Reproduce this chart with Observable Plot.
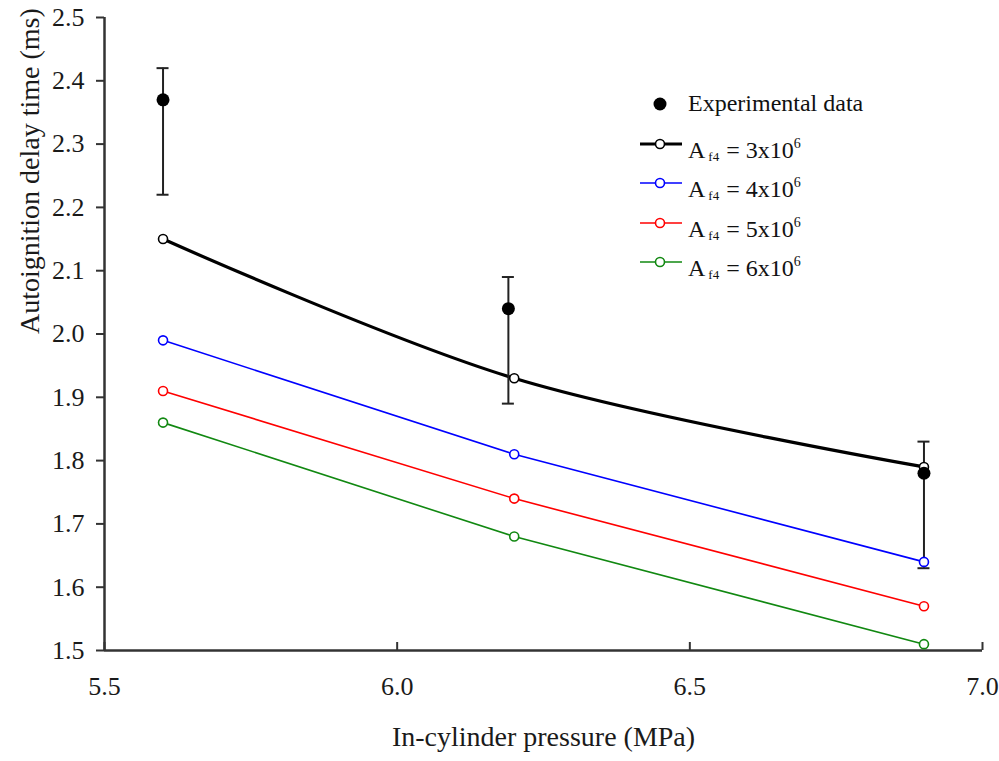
<!DOCTYPE html>
<html>
<head>
<meta charset="utf-8">
<script src="https://cdn.jsdelivr.net/npm/d3@7"></script>
<script src="https://cdn.jsdelivr.net/npm/@observablehq/plot@0.6"></script>
<style>
  html, body { margin: 0; padding: 0; background: #fff; }
  #wrap { position: relative; width: 999px; height: 761px; }
  #legend { position: absolute; left: 636px; top: 84px; font-family: "Liberation Serif", serif; font-size: 24px; color: #111; }
  .row { position: relative; height: 39.5px; line-height: 39.5px; white-space: nowrap; }
  .row svg { position: absolute; left: 0; top: 0; }
  .row span.t { position: absolute; left: 52px; top: 0; }
  sub { font-size: 13px; vertical-align: -3px; margin: 0 7px 0 3px; }
  sup { font-size: 14px; vertical-align: 10px; }
</style>
</head>
<body>
<div id="wrap"></div>
<script>
// ---- data ----
const pressure = [5.6, 6.2, 6.9];                 // model pressures (MPa)
const seriesNames = ["3", "4", "5", "6"];          // Af4 multipliers (x10^6)
const seriesColors = ["#000000", "#0000ff", "#ff0000", "#118811"];
const af4_3 = [2.15, 1.93, 1.79];
const af4_4 = [1.99, 1.81, 1.64];
const af4_5 = [1.91, 1.74, 1.57];
const af4_6 = [1.86, 1.68, 1.51];
const expPressure = [5.6, 6.19, 6.9];
const expDelay = [2.37, 2.04, 1.78];
const expHigh = [2.42, 2.09, 1.83];
const expLow = [2.22, 1.89, 1.63];
const xTicks = [5.5, 6.0, 6.5, 7.0];
const yTicks = [1.5, 1.6, 1.7, 1.8, 1.9, 2.0, 2.1, 2.2, 2.3, 2.4, 2.5];
const xLabel = "In-cylinder pressure (MPa)";
const yLabel = "Autoignition delay time (ms)";

const seriesValues = [af4_3, af4_4, af4_5, af4_6];
const model = [];
seriesValues.forEach((vals, s) => vals.forEach((v, i) => model.push({s, x: pressure[i], y: v})));
const exp = expPressure.map((x, i) => ({x, y: expDelay[i], hi: expHigh[i], lo: expLow[i]}));

const font = "Liberation Serif";
const chart = Plot.plot({
  width: 999,
  height: 761,
  marginLeft: 104,
  marginRight: 17,
  marginTop: 17,
  marginBottom: 111,
  style: {fontFamily: font, fontSize: "26px", color: "#1a1a1a", background: "#fff"},
  x: {domain: [5.5, 7.0]},
  y: {domain: [1.5, 2.5]},
  marks: [
    Plot.axisX({ticks: xTicks, tickFormat: d => d.toFixed(1), tickSize: 0, tickPadding: 26, label: null}),
    Plot.axisY({ticks: yTicks, tickFormat: d => d.toFixed(1), tickSize: 8, tickPadding: 12, label: null, stroke: "#333", strokeWidth: 2}),
    Plot.ruleX(xTicks, {y1: 1.5, y2: 1.5, insetTop: -8, stroke: "#333", strokeWidth: 2}),
    Plot.ruleX([5.5], {stroke: "#333", strokeWidth: 2.5}),
    Plot.ruleY([1.5], {stroke: "#333", strokeWidth: 2.5}),
    ...seriesValues.map((vals, s) => Plot.line(model.filter(d => d.s === s), {
      x: "x", y: "y", stroke: seriesColors[s], strokeWidth: s === 0 ? 3.2 : 1.6,
      curve: s === 0 ? "catmull-rom" : "linear"
    })),
    Plot.ruleX(exp, {x: "x", y1: "lo", y2: "hi", stroke: "#222", strokeWidth: 2}),
    Plot.ruleY(exp, {y: "hi", x1: "x", x2: "x", insetLeft: -6, insetRight: -6, stroke: "#222", strokeWidth: 2}),
    Plot.ruleY(exp, {y: "lo", x1: "x", x2: "x", insetLeft: -6, insetRight: -6, stroke: "#222", strokeWidth: 2}),
    Plot.dot(model, {x: "x", y: "y", r: 4.5, stroke: d => seriesColors[d.s], fill: "#fff", strokeWidth: 1.6}),
    Plot.dot(exp, {x: "x", y: "y", r: 6.5, fill: "#000"}),
    Plot.text([xLabel], {frameAnchor: "bottom", dy: 95, fontSize: 28, fill: "#1a1a1a"}),
    Plot.text([yLabel], {frameAnchor: "left", rotate: -90, dx: -74, fontSize: 28, fill: "#1a1a1a"})
  ]
});
const wrap = document.getElementById("wrap");
wrap.appendChild(chart);

// legend (HTML overlay)
const legend = document.createElement("div");
legend.id = "legend";
let html = `<div class="row"><svg width="50" height="40"><circle cx="24" cy="20" r="6.5" fill="#000"/></svg><span class="t">Experimental data</span></div>`;
seriesNames.forEach((n, s) => {
  const c = seriesColors[s];
  html += `<div class="row"><svg width="50" height="40"><line x1="4" x2="46" y1="20" y2="20" stroke="${c}" stroke-width="${s === 0 ? 3.2 : 1.6}"/><circle cx="24" cy="20" r="4.5" fill="#fff" stroke="${c}" stroke-width="1.6"/></svg><span class="t">A<sub>f4</sub>= ${n}x10<sup>6</sup></span></div>`;
});
legend.innerHTML = html;
wrap.appendChild(legend);
</script>
</body>
</html>
